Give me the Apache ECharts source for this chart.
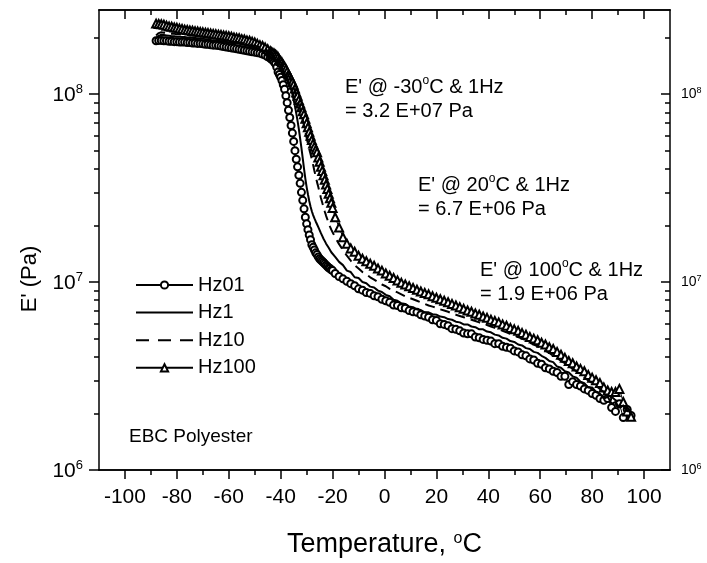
<!DOCTYPE html>
<html>
<head>
<meta charset="utf-8">
<title>EBC Polyester storage modulus</title>
<script src="https://cdn.jsdelivr.net/npm/echarts@6/dist/echarts.min.js"></script>
<style>
  html, body { margin: 0; padding: 0; background: #fff; }
  #chart { width: 707px; height: 563px; }
</style>
</head>
<body>
<div id="chart"></div>
<script>
// Temperature sweep (°C): 1 °C steps on the glassy plateau, 0.5 °C through
// the transition, 1.5 °C across the rubbery region.
const temperature = [
  -88,-87,-86,-85,-84,-83,-82,-81,-80,-79,
  -78,-77,-76,-75,-74,-73,-72,-71,-70,-69,
  -68,-67,-66,-65,-64,-63,-62,-61,-60,-59,
  -58,-57,-56,-55,-54,-53,-52,-51,-50,-49,
  -48,-47,-46,-45,-44,
  -43.5,-43,-42.5,-42,-41.5,-41,-40.5,-40,-39.5,-39,
  -38.5,-38,-37.5,-37,-36.5,-36,-35.5,-35,-34.5,-34,
  -33.5,-33,-32.5,-32,-31.5,-31,-30.5,-30,-29.5,-29,
  -28.5,-28,-27.5,-27,-26.5,-26,-25.5,-25,-24.5,-24,
  -23.5,-23,-22.5,-22,-21.5,-21,-20.5,-20,
  -19,-17.5,-16,-14.5,-13,-11.5,-10,-8.5,-7,-5.5,
  -4,-2.5,-1,0.5,2,3.5,5,6.5,8,9.5,
  11,12.5,14,15.5,17,18.5,20,21.5,23,24.5,
  26,27.5,29,30.5,32,33.5,35,36.5,38,39.5,
  41,42.5,44,45.5,47,48.5,50,51.5,53,54.5,
  56,57.5,59,60.5,62,63.5,65,66.5,68,69.5,
  71,72.5,74,75.5,77,78.5,80,81.5,83,84.5,
  86,87.5,89,90.5,92,93.5,95
];

// Storage modulus E' (Pa) at 0.1 Hz
const hz01 = [
  1.92e8,1.93e8,1.93e8,1.92e8,1.92e8,1.91e8,1.91e8,1.90e8,1.90e8,1.89e8,
  1.89e8,1.89e8,1.88e8,1.88e8,1.87e8,1.87e8,1.86e8,1.86e8,1.85e8,1.84e8,
  1.84e8,1.83e8,1.82e8,1.82e8,1.81e8,1.80e8,1.79e8,1.78e8,1.77e8,1.76e8,
  1.75e8,1.74e8,1.73e8,1.72e8,1.71e8,1.70e8,1.69e8,1.68e8,1.67e8,1.66e8,
  1.65e8,1.63e8,1.61e8,1.58e8,1.55e8,
  1.53e8,1.51e8,1.48e8,1.45e8,1.39e8,1.31e8,1.27e8,1.23e8,1.18e8,1.12e8,
  1.06e8,9.8e7,9.0e7,8.2e7,7.5e7,6.8e7,6.2e7,5.6e7,5.0e7,4.5e7,
  4.1e7,3.7e7,3.35e7,3.0e7,2.72e7,2.45e7,2.21e7,2.04e7,1.9e7,1.78e7,
  1.68e7,1.58e7,1.53e7,1.48e7,1.43e7,1.40e7,1.36e7,1.33e7,1.31e7,1.29e7,
  1.27e7,1.25e7,1.23e7,1.21e7,1.19e7,1.18e7,1.16e7,1.15e7,
  1.11e7,1.07e7,1.04e7,1.01e7,9.8e6,9.55e6,9.2e6,9.05e6,8.8e6,8.7e6,
  8.45e6,8.35e6,8.1e6,7.95e6,7.8e6,7.55e6,7.5e6,7.3e6,7.25e6,7.05e6,
  6.95e6,6.9e6,6.7e6,6.6e6,6.5e6,6.3e6,6.25e6,6.0e6,5.95e6,5.85e6,
  5.65e6,5.6e6,5.5e6,5.35e6,5.3e6,5.3e6,5.1e6,5.05e6,4.95e6,4.9e6,
  4.85e6,4.7e6,4.7e6,4.55e6,4.5e6,4.45e6,4.3e6,4.25e6,4.1e6,4.05e6,
  3.9e6,3.85e6,3.7e6,3.65e6,3.5e6,3.45e6,3.35e6,3.3e6,3.15e6,3.15e6,
  2.85e6,2.95e6,2.85e6,2.8e6,2.7e6,2.65e6,2.55e6,2.5e6,2.4e6,2.35e6,
  2.4e6,2.15e6,2.05e6,2.25e6,1.9e6,2.1e6,1.95e6
];

// E' (Pa) at 1 Hz
const hz1 = [
  1.98e8,2.04e8,2.07e8,2.06e8,2.05e8,2.04e8,2.03e8,2.03e8,2.02e8,2.02e8,
  2.01e8,2.01e8,2.00e8,2.00e8,1.99e8,1.99e8,1.98e8,1.98e8,1.97e8,1.96e8,
  1.95e8,1.94e8,1.93e8,1.92e8,1.92e8,1.91e8,1.90e8,1.89e8,1.88e8,1.87e8,
  1.87e8,1.86e8,1.85e8,1.84e8,1.83e8,1.82e8,1.80e8,1.79e8,1.77e8,1.75e8,
  1.73e8,1.71e8,1.69e8,1.66e8,1.63e8,
  1.61e8,1.59e8,1.57e8,1.54e8,1.51e8,1.48e8,1.45e8,1.42e8,1.38e8,1.34e8,
  1.29e8,1.25e8,1.21e8,1.17e8,1.12e8,1.06e8,1.00e8,9.3e7,8.6e7,7.9e7,
  7.2e7,6.5e7,5.8e7,5.15e7,4.55e7,4.0e7,3.55e7,3.2e7,2.93e7,2.7e7,
  2.52e7,2.38e7,2.27e7,2.18e7,2.1e7,2.03e7,1.96e7,1.89e7,1.82e7,1.76e7,
  1.7e7,1.65e7,1.6e7,1.56e7,1.52e7,1.48e7,1.44e7,1.41e7,
  1.36e7,1.28e7,1.23e7,1.15e7,1.13e7,1.06e7,1.05e7,1.00e7,9.85e6,9.45e6,
  9.35e6,9.0e6,8.85e6,8.55e6,8.4e6,8.05e6,7.95e6,7.7e6,7.65e6,7.4e6,
  7.35e6,7.15e6,7.1e6,6.9e6,6.9e6,6.75e6,6.7e6,6.55e6,6.5e6,6.35e6,
  6.3e6,6.15e6,6.1e6,5.95e6,5.95e6,5.8e6,5.75e6,5.6e6,5.6e6,5.45e6,
  5.4e6,5.25e6,5.2e6,5.05e6,5.0e6,4.85e6,4.8e6,4.65e6,4.6e6,4.45e6,
  4.4e6,4.25e6,4.2e6,4.05e6,3.95e6,3.8e6,3.75e6,3.55e6,3.5e6,3.35e6,
  3.3e6,3.15e6,3.1e6,2.95e6,2.9e6,2.75e6,2.75e6,2.6e6,2.55e6,2.4e6,
  2.45e6,2.25e6,2.3e6,2.15e6,2.2e6,2.05e6,2.1e6
];

// E' (Pa) at 10 Hz
const hz10 = [
  2.05e8,2.11e8,2.13e8,2.12e8,2.11e8,2.10e8,2.09e8,2.09e8,2.08e8,2.08e8,
  2.07e8,2.06e8,2.06e8,2.05e8,2.05e8,2.04e8,2.03e8,2.03e8,2.02e8,2.01e8,
  2.00e8,1.99e8,1.98e8,1.97e8,1.96e8,1.95e8,1.94e8,1.93e8,1.92e8,1.91e8,
  1.90e8,1.89e8,1.88e8,1.87e8,1.86e8,1.85e8,1.84e8,1.82e8,1.81e8,1.79e8,
  1.77e8,1.75e8,1.73e8,1.70e8,1.68e8,
  1.66e8,1.64e8,1.62e8,1.60e8,1.57e8,1.54e8,1.51e8,1.48e8,1.45e8,1.41e8,
  1.38e8,1.34e8,1.30e8,1.26e8,1.22e8,1.17e8,1.13e8,1.08e8,1.03e8,9.8e7,
  9.3e7,8.8e7,8.3e7,7.8e7,7.3e7,6.8e7,6.3e7,5.85e7,5.45e7,5.1e7,
  4.8e7,4.5e7,4.2e7,3.9e7,3.65e7,3.4e7,3.2e7,3.0e7,2.8e7,2.65e7,
  2.5e7,2.37e7,2.25e7,2.15e7,2.05e7,1.97e7,1.9e7,1.84e7,
  1.73e7,1.59e7,1.48e7,1.38e7,1.30e7,1.23e7,1.18e7,1.13e7,1.10e7,1.06e7,
  1.03e7,1.00e7,9.7e6,9.5e6,9.2e6,9.0e6,8.8e6,8.6e6,8.4e6,8.25e6,
  8.1e6,7.95e6,7.8e6,7.65e6,7.5e6,7.4e6,7.3e6,7.15e6,7.05e6,6.95e6,
  6.8e6,6.7e6,6.6e6,6.5e6,6.4e6,6.3e6,6.2e6,6.1e6,6.0e6,5.9e6,
  5.8e6,5.7e6,5.6e6,5.5e6,5.4e6,5.3e6,5.2e6,5.1e6,5.0e6,4.9e6,
  4.75e6,4.65e6,4.55e6,4.4e6,4.3e6,4.2e6,4.05e6,3.95e6,3.8e6,3.7e6,
  3.55e6,3.45e6,3.35e6,3.2e6,3.1e6,3.0e6,2.9e6,2.8e6,2.7e6,2.6e6,
  2.5e6,2.45e6,2.35e6,2.3e6,2.2e6,2.15e6,2.05e6
];

// E' (Pa) at 100 Hz
const hz100 = [
  2.37e8,2.36e8,2.35e8,2.34e8,2.31e8,2.29e8,2.28e8,2.26e8,2.25e8,2.23e8,
  2.22e8,2.20e8,2.19e8,2.18e8,2.17e8,2.16e8,2.15e8,2.14e8,2.13e8,2.12e8,
  2.11e8,2.10e8,2.09e8,2.08e8,2.07e8,2.06e8,2.05e8,2.04e8,2.03e8,2.02e8,
  2.00e8,1.99e8,1.98e8,1.96e8,1.95e8,1.93e8,1.92e8,1.90e8,1.88e8,1.85e8,
  1.82e8,1.80e8,1.77e8,1.73e8,1.69e8,
  1.67e8,1.655e8,1.64e8,1.62e8,1.60e8,1.57e8,1.53e8,1.50e8,1.47e8,1.43e8,
  1.40e8,1.36e8,1.32e8,1.27e8,1.24e8,1.20e8,1.16e8,1.12e8,1.07e8,1.02e8,
  9.8e7,9.3e7,8.9e7,8.5e7,8.1e7,7.8e7,7.4e7,7.0e7,6.65e7,6.3e7,
  6.0e7,5.7e7,5.45e7,5.25e7,5.05e7,4.9e7,4.6e7,4.36e7,4.1e7,3.9e7,
  3.7e7,3.5e7,3.3e7,3.13e7,2.95e7,2.79e7,2.64e7,2.48e7,
  2.21e7,1.95e7,1.73e7,1.60e7,1.51e7,1.45e7,1.38e7,1.33e7,1.29e7,1.25e7,
  1.22e7,1.18e7,1.15e7,1.11e7,1.08e7,1.05e7,1.02e7,9.9e6,9.7e6,9.5e6,
  9.3e6,9.1e6,8.9e6,8.75e6,8.6e6,8.4e6,8.25e6,8.1e6,7.95e6,7.8e6,
  7.65e6,7.5e6,7.35e6,7.2e6,7.05e6,6.95e6,6.8e6,6.7e6,6.55e6,6.45e6,
  6.3e6,6.2e6,6.1e6,5.95e6,5.85e6,5.7e6,5.6e6,5.5e6,5.35e6,5.25e6,
  5.1e6,5.0e6,4.9e6,4.75e6,4.65e6,4.5e6,4.4e6,4.25e6,4.1e6,3.95e6,
  3.8e6,3.7e6,3.55e6,3.45e6,3.35e6,3.2e6,3.1e6,3.0e6,2.9e6,2.75e6,
  2.65e6,2.6e6,2.6e6,2.7e6,2.3e6,2.05e6,1.92e6
];

// Axis ticks
const xMajorTicks = [-100, -80, -60, -40, -20, 0, 20, 40, 60, 80, 100];
const xMinorTicks = [-90, -70, -50, -30, -10, 10, 30, 50, 70, 90];
const decadeExponents = [6, 7, 8];
const minorMultipliers = [2, 3, 4, 5, 6, 7, 8, 9];
const yMin = 1e6;
const yMax = 2.8e8;

// Values quoted at 1 Hz
const noteTemps = [-30, 20, 100];
const noteModulus = [3.2e7, 6.7e6, 1.9e6];

const FONT = '"Liberation Sans", Arial, Helvetica, sans-serif';
const BLACK = '#000';

const yTopExp = Math.log10(yMax);
const yMinorExps = [];
decadeExponents.forEach(function (e) {
  minorMultipliers.forEach(function (m) {
    const v = Math.log10(m) + e;
    if (v < yTopExp) yMinorExps.push(v);
  });
});

function pairs(values) {
  return temperature.map(function (t, i) { return [t, values[i]]; });
}

function sci(v) {
  const e = Math.floor(Math.log10(v));
  const m = v / Math.pow(10, e);
  return m.toFixed(1) + ' E+' + (e < 10 ? '0' : '') + e;
}

function noteText(i) {
  return "{t|E' @ " + noteTemps[i] + '}{s|o}{t|C & 1Hz}\n{t|= ' + sci(noteModulus[i]) + ' Pa}';
}

const noteRich = {
  t: { fontSize: 20, lineHeight: 24, fontFamily: FONT, fill: BLACK },
  s: { fontSize: 12, lineHeight: 14, fontFamily: FONT, fill: BLACK, verticalAlign: 'top' }
};

const lineIcon = 'path://M0,0H57V2H0Z';
const dashIcon = 'path://M0,0H13V2H0ZM22,0H35V2H22ZM44,0H57V2H44Z';

function xAxisDef(position, ticks, len, inside, withLabels) {
  return {
    type: 'value', min: -110, max: 110, position: position, gridIndex: 0,
    axisLine: { show: true, onZero: false, lineStyle: { color: BLACK, width: 1.5 } },
    axisTick: { show: true, inside: inside, length: len, customValues: ticks,
                lineStyle: { color: BLACK, width: 1.5 } },
    axisLabel: withLabels ? {
      show: true, customValues: ticks, margin: 17, color: BLACK,
      fontSize: 21, fontFamily: FONT
    } : { show: false },
    splitLine: { show: false }
  };
}

function yTickAxis(position, ticks, len, inside, labelStyle) {
  return {
    type: 'value', min: 6, max: yTopExp, position: position, gridIndex: 0,
    axisLine: { show: false, onZero: false },
    axisTick: { show: true, inside: inside, length: len, customValues: ticks,
                lineStyle: { color: BLACK, width: 1.5 } },
    axisLabel: labelStyle ? Object.assign({
      show: true, customValues: ticks,
      formatter: function (v) { return '{b|10}{s|' + Math.round(v) + '}'; }
    }, labelStyle) : { show: false },
    splitLine: { show: false }
  };
}

const chart = echarts.init(document.getElementById('chart'), null, { renderer: 'canvas' });

chart.setOption({
  animation: false,
  backgroundColor: '#fff',
  grid: { left: 99, top: 10, width: 571, height: 460 },
  xAxis: [
    Object.assign(xAxisDef('bottom', xMajorTicks, 9, false, true), {
      name: 'Temperature, {s|o}C',
      nameLocation: 'middle',
      nameGap: 61,
      nameTextStyle: {
        fontSize: 27, fontFamily: FONT, color: BLACK,
        rich: { s: { fontSize: 16, lineHeight: 16, fontFamily: FONT, color: BLACK, verticalAlign: 'top' } }
      }
    }),
    xAxisDef('bottom', xMinorTicks, 5, false, false),
    xAxisDef('top', xMajorTicks, 9, true, false),
    xAxisDef('top', xMinorTicks, 5, true, false)
  ],
  yAxis: [
    {
      type: 'log', logBase: 10, min: yMin, max: yMax, position: 'left', gridIndex: 0,
      axisLine: { show: true, onZero: false, lineStyle: { color: BLACK, width: 1.5 } },
      axisTick: { show: false },
      axisLabel: { show: false },
      splitLine: { show: false }
    },
    yTickAxis('left', decadeExponents, 10, false, {
      margin: 16,
      rich: {
        b: { fontSize: 21, lineHeight: 22, fontFamily: FONT, color: BLACK, padding: [3, 0, 0, 0] },
        s: { fontSize: 13, lineHeight: 13, fontFamily: FONT, color: BLACK, verticalAlign: 'top' }
      }
    }),
    yTickAxis('left', yMinorExps, 5, false, null),
    Object.assign(yTickAxis('right', decadeExponents, 9, true, {
      margin: 11,
      rich: {
        b: { fontSize: 14, lineHeight: 16, fontFamily: FONT, color: BLACK },
        s: { fontSize: 9, lineHeight: 9, fontFamily: FONT, color: BLACK, verticalAlign: 'top' }
      }
    }), { axisLine: { show: true, onZero: false, lineStyle: { color: BLACK, width: 1.5 } } }),
    yTickAxis('right', yMinorExps, 5, true, null)
  ],
  legend: {
    orient: 'vertical', left: 135, top: 275, padding: 0,
    itemWidth: 57, itemHeight: 9, itemGap: 7.6,
    selectedMode: false,
    lineStyle: { width: 2 },
    textStyle: { fontSize: 20, lineHeight: 20, fontFamily: FONT, color: BLACK },
    data: [
      { name: 'Hz01' },
      { name: 'Hz1', icon: lineIcon },
      { name: 'Hz10', icon: dashIcon },
      { name: 'Hz100' }
    ]
  },
  series: [
    {
      name: 'Hz01', type: 'line', xAxisIndex: 0, yAxisIndex: 0,
      data: pairs(hz01),
      symbol: 'emptyCircle', symbolSize: 7, showAllSymbol: true,
      lineStyle: { color: BLACK, width: 1 },
      itemStyle: { color: BLACK, borderWidth: 1 },
      emphasis: { disabled: true }, z: 3
    },
    {
      name: 'Hz1', type: 'line', xAxisIndex: 0, yAxisIndex: 0,
      data: pairs(hz1),
      symbol: 'none',
      lineStyle: { color: BLACK, width: 2 },
      itemStyle: { color: BLACK },
      emphasis: { disabled: true }, z: 4
    },
    {
      name: 'Hz10', type: 'line', xAxisIndex: 0, yAxisIndex: 0,
      data: pairs(hz10),
      symbol: 'none',
      lineStyle: { color: BLACK, width: 2, type: [10, 6] },
      itemStyle: { color: BLACK },
      emphasis: { disabled: true }, z: 4
    },
    {
      name: 'Hz100', type: 'line', xAxisIndex: 0, yAxisIndex: 0,
      data: pairs(hz100),
      symbol: 'emptyTriangle', symbolSize: 8, showAllSymbol: true,
      lineStyle: { color: BLACK, width: 1 },
      itemStyle: { color: BLACK, borderWidth: 1 },
      emphasis: { disabled: true }, z: 3
    }
  ],
  graphic: [
    {
      type: 'text', x: 30, y: 279, rotation: Math.PI / 2,
      style: { text: "E' (Pa)", fontSize: 22, fontFamily: FONT, fill: BLACK,
               align: 'center', verticalAlign: 'middle' }
    },
    {
      type: 'text', x: 129, y: 437,
      style: { text: 'EBC Polyester', fontSize: 19, fontFamily: FONT, fill: BLACK,
               align: 'left', verticalAlign: 'middle' }
    },
    {
      type: 'text', x: 345, y: 75,
      style: { text: noteText(0), rich: noteRich, align: 'left', verticalAlign: 'top' }
    },
    {
      type: 'text', x: 418, y: 173,
      style: { text: noteText(1), rich: noteRich, align: 'left', verticalAlign: 'top' }
    },
    {
      type: 'text', x: 480, y: 258,
      style: { text: noteText(2), rich: noteRich, align: 'left', verticalAlign: 'top' }
    }
  ]
});
</script>
</body>
</html>
